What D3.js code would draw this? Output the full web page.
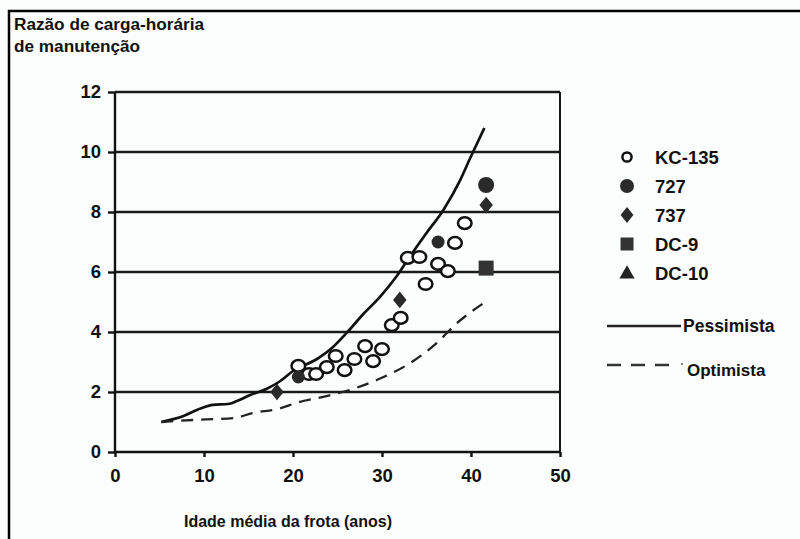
<!DOCTYPE html>
<html>
<head>
<meta charset="utf-8">
<script src="https://cdn.jsdelivr.net/npm/d3@7"></script>
<style>
  body { margin: 0; background: #fcfefd; }
  svg { display: block; }
  text { font-family: "Liberation Sans", Arial, sans-serif; font-weight: bold; fill: #111; }
</style>
</head>
<body>
<svg width="800" height="539"></svg>
<script>
// age (years) vs. maintenance man-hour ratio
const kc135 = [
  [20.6, 2.87], [21.8, 2.6], [22.6, 2.6], [23.8, 2.83], [24.8, 3.2],
  [25.8, 2.73], [26.9, 3.1], [28.1, 3.53], [29.0, 3.03], [30.0, 3.43],
  [31.1, 4.23], [32.1, 4.47], [32.9, 6.47], [34.2, 6.5], [34.9, 5.6],
  [36.3, 6.27], [37.4, 6.03], [38.2, 6.97], [39.3, 7.63]
];
const b727 = [[20.6, 2.5], [36.3, 7.0], [41.7, 8.9]];
const b737 = [[18.2, 2.0], [32.0, 5.07], [41.7, 8.23]];
const dc9 = [[41.7, 6.13]];
const dc10 = [];

const pessimista = [
  [5.2, 1.0], [7.7, 1.2], [9.6, 1.45], [11, 1.57], [12.7, 1.6], [13.7, 1.7],
  [15.2, 1.9], [17, 2.1], [18.5, 2.35], [20, 2.7], [22.7, 3.1], [24.5, 3.5],
  [26, 3.96], [27.9, 4.6], [29.8, 5.18], [31.6, 5.84], [33.1, 6.5], [35, 7.3],
  [36.9, 8.07], [38.8, 9.07], [39.9, 9.79], [41.5, 10.8]
];
const optimista = [
  [5.2, 1.0], [9.6, 1.08], [13.3, 1.13], [15.5, 1.3], [18.5, 1.45], [20.5, 1.65],
  [23.4, 1.84], [26.4, 2.07], [29.4, 2.4], [32.8, 2.9], [36.1, 3.62],
  [38.4, 4.29], [41.4, 4.96]
];

const xTicks = [0, 10, 20, 30, 40, 50];
const yTicks = [0, 2, 4, 6, 8, 10, 12];
const legendNames = ["KC-135", "727", "737", "DC-9", "DC-10"];

const svg = d3.select("svg");

// frame round the figure (top and left edges only show)
svg.append("path")
  .attr("d", "M9,539 V11 H800")
  .attr("fill", "none").attr("stroke", "#000").attr("stroke-width", 2.5);

svg.append("text").attr("x", 14).attr("y", 30).style("font-size", "17.2px").text("Razão de carga-horária");
svg.append("text").attr("x", 14).attr("y", 52).style("font-size", "17.2px").text("de manutenção");

const x = d3.scaleLinear().domain([0, 50]).range([115, 560]);
const y = d3.scaleLinear().domain([0, 12]).range([452, 92]);

// gridlines
svg.append("g")
  .selectAll("line")
  .data(yTicks.filter(d => d > 0))
  .enter().append("line")
  .attr("x1", x(0)).attr("x2", x(50))
  .attr("y1", d => y(d)).attr("y2", d => y(d))
  .attr("stroke", "#1a1a1a").attr("stroke-width", 2.4);

// right border
svg.append("line")
  .attr("x1", x(50)).attr("x2", x(50)).attr("y1", y(12)).attr("y2", y(0))
  .attr("stroke", "#1a1a1a").attr("stroke-width", 2);

const yAxis = svg.append("g")
  .attr("transform", `translate(${x(0)},0)`)
  .call(d3.axisLeft(y).tickValues(yTicks).tickSize(7).tickPadding(7));
const xAxis = svg.append("g")
  .attr("transform", `translate(0,${y(0)})`)
  .call(d3.axisBottom(x).tickValues(xTicks).tickSize(5).tickPadding(12));

[yAxis, xAxis].forEach(g => {
  g.select(".domain").attr("stroke", "#111").attr("stroke-width", 2.4);
  g.selectAll(".tick line").attr("stroke", "#111").attr("stroke-width", 2.4);
  g.selectAll(".tick text")
    .style("font-family", "'Liberation Sans', Arial, sans-serif")
    .style("font-weight", "bold").style("font-size", "18.5px").attr("fill", "#111");
});
yAxis.select(".domain").attr("d", `M0,${y(0)}V${y(12)}`);
xAxis.select(".domain").attr("d", `M${x(0)},0H${x(50)}`);

svg.append("text")
  .attr("x", 288).attr("y", 527).attr("text-anchor", "middle")
  .style("font-size", "16px").text("Idade média da frota (anos)");

// curves
const line = d3.line().x(d => x(d[0])).y(d => y(d[1])).curve(d3.curveMonotoneX);
svg.append("path").datum(pessimista)
  .attr("d", line).attr("fill", "none").attr("stroke", "#111").attr("stroke-width", 2.7);
svg.append("path").datum(optimista)
  .attr("d", line).attr("fill", "none").attr("stroke", "#222").attr("stroke-width", 2.3)
  .attr("stroke-dasharray", "12,8");

// markers
function drawOpen(g, cx, cy, rx, ry) {
  g.append("ellipse").attr("cx", cx).attr("cy", cy).attr("rx", rx).attr("ry", ry)
    .attr("fill", "#fff").attr("stroke", "#111").attr("stroke-width", 2.5);
}
function drawDot(g, cx, cy, r) {
  g.append("circle").attr("cx", cx).attr("cy", cy).attr("r", r).attr("fill", "#2a2a2a");
}
function drawDiamond(g, cx, cy, s) {
  g.append("path").attr("d", d3.symbol(d3.symbolDiamond, s)()).attr("transform", `translate(${cx},${cy}) scale(1.2,0.85)`)
    .attr("fill", "#2a2a2a");
}
function drawSquare(g, cx, cy, s) {
  g.append("rect").attr("x", cx - s / 2).attr("y", cy - s / 2).attr("width", s).attr("height", s)
    .attr("fill", "#333");
}
function drawTriangle(g, cx, cy, s) {
  g.append("path").attr("d", d3.symbol(d3.symbolTriangle, s)()).attr("transform", `translate(${cx},${cy})`)
    .attr("fill", "#222");
}

const marks = svg.append("g");
kc135.forEach(d => drawOpen(marks, x(d[0]), y(d[1]), 6.8, 5.8));
b727.forEach((d, i) => drawDot(marks, x(d[0]), y(d[1]), i === 2 ? 8 : 6.5));
b737.forEach(d => drawDiamond(marks, x(d[0]), y(d[1]), 110));
dc9.forEach(d => drawSquare(marks, x(d[0]), y(d[1]), 15));
dc10.forEach(d => drawTriangle(marks, x(d[0]), y(d[1]), 90));

// legend
const lg = svg.append("g");
const rowY = d3.scalePoint().domain(legendNames).range([157, 273]);
drawOpen(lg, 627, rowY("KC-135"), 4.6, 4.6);
drawDot(lg, 627, rowY("727"), 7);
drawDiamond(lg, 627, rowY("737"), 100);
drawSquare(lg, 627, rowY("DC-9"), 13);
drawTriangle(lg, 627, rowY("DC-10") + 1, 100);
legendNames.forEach(n => {
  lg.append("text").attr("x", 655).attr("y", rowY(n) + 7).style("font-size", "18.5px").text(n);
});
lg.append("line").attr("x1", 607).attr("x2", 681).attr("y1", 326).attr("y2", 326)
  .attr("stroke", "#222").attr("stroke-width", 2.5);
lg.append("text").attr("x", 683).attr("y", 332).style("font-size", "17.5px").text("Pessimista");
lg.append("line").attr("x1", 607).attr("x2", 670).attr("y1", 365).attr("y2", 365)
  .attr("stroke", "#333").attr("stroke-width", 2.5).attr("stroke-dasharray", "14,10");
lg.append("circle").attr("cx", 682).attr("cy", 364).attr("r", 1).attr("fill", "#555");
lg.append("text").attr("x", 687).attr("y", 376).style("font-size", "17px").text("Optimista");
</script>
</body>
</html>
